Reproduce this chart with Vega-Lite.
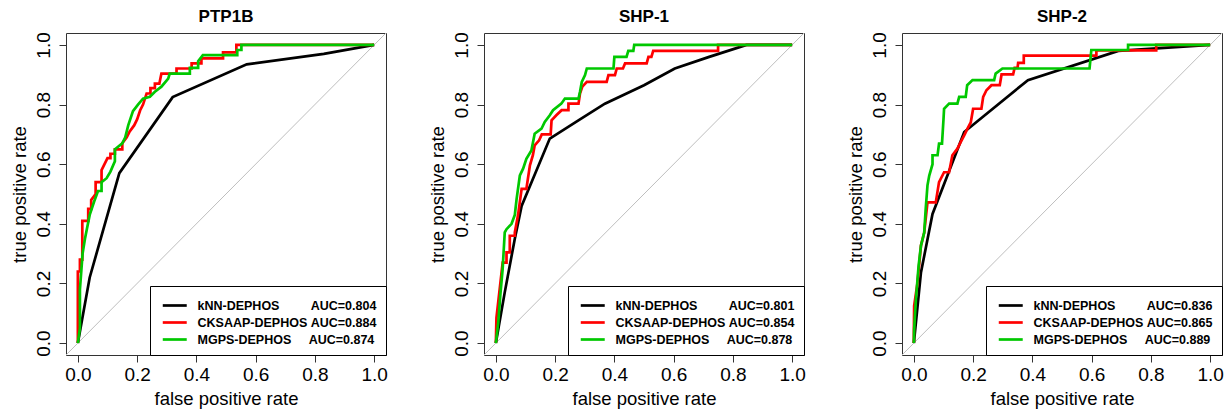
{
"$schema": "https://vega.github.io/schema/vega-lite/v6.json",
"background": "white",
"padding": {"left": 9, "top": 7, "right": 3, "bottom": 3},
"spacing": 98,
"bounds": "flush",
"resolve": {"legend": {"color": "independent"}},
"config": {
  "font": "Liberation Sans",
  "view": {"stroke": "#333333", "strokeWidth": 1},
  "axis": {"labelFontSize": 19, "labelColor": "black", "tickColor": "#333333", "tickSize": 7, "domain": false, "grid": false, "titleFontSize": 18.5, "titleFontWeight": "normal", "titleColor": "black"},
  "axisX": {"labelPadding": 3, "titlePadding": 5},
  "axisY": {"labelAngle": 270, "labelAlign": "center", "labelBaseline": "alphabetic", "labelPadding": 10, "titlePadding": 5},
  "title": {"fontSize": 17, "fontWeight": "bold", "offset": 6, "anchor": "middle", "color": "black"},
  "legend": {"orient": "bottom-right", "offset": 0, "symbolType": "M-0.77,0H1.97", "symbolSize": 306, "symbolStrokeWidth": 2.7, "symbolFillColor": "transparent", "labelFontSize": 12.5, "labelFontWeight": "bold", "labelColor": "black", "labelLimit": 400, "fillColor": "white", "strokeColor": "black", "padding": 9, "labelOffset": 17.5, "rowPadding": 0}
},
"datasets": {
"roc": [
{"p":"PTP1B","m":"kNN-DEPHOS","i":0,"x":0,"y":0},
{"p":"PTP1B","m":"kNN-DEPHOS","i":1,"x":0.04,"y":0.22},
{"p":"PTP1B","m":"kNN-DEPHOS","i":2,"x":0.14,"y":0.57},
{"p":"PTP1B","m":"kNN-DEPHOS","i":3,"x":0.32,"y":0.825},
{"p":"PTP1B","m":"kNN-DEPHOS","i":4,"x":0.57,"y":0.935},
{"p":"PTP1B","m":"kNN-DEPHOS","i":5,"x":0.83,"y":0.97},
{"p":"PTP1B","m":"kNN-DEPHOS","i":6,"x":1,"y":1},
{"p":"PTP1B","m":"CKSAAP-DEPHOS","i":0,"x":0,"y":0},
{"p":"PTP1B","m":"CKSAAP-DEPHOS","i":1,"x":0,"y":0.24},
{"p":"PTP1B","m":"CKSAAP-DEPHOS","i":2,"x":0.007,"y":0.24},
{"p":"PTP1B","m":"CKSAAP-DEPHOS","i":3,"x":0.007,"y":0.28},
{"p":"PTP1B","m":"CKSAAP-DEPHOS","i":4,"x":0.015,"y":0.28},
{"p":"PTP1B","m":"CKSAAP-DEPHOS","i":5,"x":0.015,"y":0.41},
{"p":"PTP1B","m":"CKSAAP-DEPHOS","i":6,"x":0.035,"y":0.41},
{"p":"PTP1B","m":"CKSAAP-DEPHOS","i":7,"x":0.035,"y":0.45},
{"p":"PTP1B","m":"CKSAAP-DEPHOS","i":8,"x":0.045,"y":0.45},
{"p":"PTP1B","m":"CKSAAP-DEPHOS","i":9,"x":0.045,"y":0.48},
{"p":"PTP1B","m":"CKSAAP-DEPHOS","i":10,"x":0.06,"y":0.5},
{"p":"PTP1B","m":"CKSAAP-DEPHOS","i":11,"x":0.06,"y":0.54},
{"p":"PTP1B","m":"CKSAAP-DEPHOS","i":12,"x":0.08,"y":0.54},
{"p":"PTP1B","m":"CKSAAP-DEPHOS","i":13,"x":0.08,"y":0.58},
{"p":"PTP1B","m":"CKSAAP-DEPHOS","i":14,"x":0.09,"y":0.6},
{"p":"PTP1B","m":"CKSAAP-DEPHOS","i":15,"x":0.1,"y":0.62},
{"p":"PTP1B","m":"CKSAAP-DEPHOS","i":16,"x":0.11,"y":0.62},
{"p":"PTP1B","m":"CKSAAP-DEPHOS","i":17,"x":0.11,"y":0.635},
{"p":"PTP1B","m":"CKSAAP-DEPHOS","i":18,"x":0.125,"y":0.635},
{"p":"PTP1B","m":"CKSAAP-DEPHOS","i":19,"x":0.125,"y":0.65},
{"p":"PTP1B","m":"CKSAAP-DEPHOS","i":20,"x":0.15,"y":0.65},
{"p":"PTP1B","m":"CKSAAP-DEPHOS","i":21,"x":0.15,"y":0.67},
{"p":"PTP1B","m":"CKSAAP-DEPHOS","i":22,"x":0.165,"y":0.69},
{"p":"PTP1B","m":"CKSAAP-DEPHOS","i":23,"x":0.175,"y":0.71},
{"p":"PTP1B","m":"CKSAAP-DEPHOS","i":24,"x":0.19,"y":0.73},
{"p":"PTP1B","m":"CKSAAP-DEPHOS","i":25,"x":0.2,"y":0.75},
{"p":"PTP1B","m":"CKSAAP-DEPHOS","i":26,"x":0.21,"y":0.78},
{"p":"PTP1B","m":"CKSAAP-DEPHOS","i":27,"x":0.22,"y":0.8},
{"p":"PTP1B","m":"CKSAAP-DEPHOS","i":28,"x":0.232,"y":0.837},
{"p":"PTP1B","m":"CKSAAP-DEPHOS","i":29,"x":0.245,"y":0.837},
{"p":"PTP1B","m":"CKSAAP-DEPHOS","i":30,"x":0.245,"y":0.855},
{"p":"PTP1B","m":"CKSAAP-DEPHOS","i":31,"x":0.26,"y":0.855},
{"p":"PTP1B","m":"CKSAAP-DEPHOS","i":32,"x":0.26,"y":0.87},
{"p":"PTP1B","m":"CKSAAP-DEPHOS","i":33,"x":0.275,"y":0.87},
{"p":"PTP1B","m":"CKSAAP-DEPHOS","i":34,"x":0.282,"y":0.904},
{"p":"PTP1B","m":"CKSAAP-DEPHOS","i":35,"x":0.333,"y":0.904},
{"p":"PTP1B","m":"CKSAAP-DEPHOS","i":36,"x":0.333,"y":0.921},
{"p":"PTP1B","m":"CKSAAP-DEPHOS","i":37,"x":0.384,"y":0.921},
{"p":"PTP1B","m":"CKSAAP-DEPHOS","i":38,"x":0.384,"y":0.938},
{"p":"PTP1B","m":"CKSAAP-DEPHOS","i":39,"x":0.417,"y":0.938},
{"p":"PTP1B","m":"CKSAAP-DEPHOS","i":40,"x":0.417,"y":0.955},
{"p":"PTP1B","m":"CKSAAP-DEPHOS","i":41,"x":0.49,"y":0.955},
{"p":"PTP1B","m":"CKSAAP-DEPHOS","i":42,"x":0.49,"y":0.975},
{"p":"PTP1B","m":"CKSAAP-DEPHOS","i":43,"x":0.535,"y":0.975},
{"p":"PTP1B","m":"CKSAAP-DEPHOS","i":44,"x":0.535,"y":1},
{"p":"PTP1B","m":"CKSAAP-DEPHOS","i":45,"x":1,"y":1},
{"p":"PTP1B","m":"MGPS-DEPHOS","i":0,"x":0,"y":0},
{"p":"PTP1B","m":"MGPS-DEPHOS","i":1,"x":0.007,"y":0.05},
{"p":"PTP1B","m":"MGPS-DEPHOS","i":2,"x":0.007,"y":0.18},
{"p":"PTP1B","m":"MGPS-DEPHOS","i":3,"x":0.016,"y":0.3},
{"p":"PTP1B","m":"MGPS-DEPHOS","i":4,"x":0.024,"y":0.35},
{"p":"PTP1B","m":"MGPS-DEPHOS","i":5,"x":0.031,"y":0.385},
{"p":"PTP1B","m":"MGPS-DEPHOS","i":6,"x":0.04,"y":0.43},
{"p":"PTP1B","m":"MGPS-DEPHOS","i":7,"x":0.055,"y":0.475},
{"p":"PTP1B","m":"MGPS-DEPHOS","i":8,"x":0.068,"y":0.51},
{"p":"PTP1B","m":"MGPS-DEPHOS","i":9,"x":0.08,"y":0.51},
{"p":"PTP1B","m":"MGPS-DEPHOS","i":10,"x":0.08,"y":0.54},
{"p":"PTP1B","m":"MGPS-DEPHOS","i":11,"x":0.097,"y":0.553},
{"p":"PTP1B","m":"MGPS-DEPHOS","i":12,"x":0.11,"y":0.575},
{"p":"PTP1B","m":"MGPS-DEPHOS","i":13,"x":0.125,"y":0.61},
{"p":"PTP1B","m":"MGPS-DEPHOS","i":14,"x":0.125,"y":0.65},
{"p":"PTP1B","m":"MGPS-DEPHOS","i":15,"x":0.15,"y":0.67},
{"p":"PTP1B","m":"MGPS-DEPHOS","i":16,"x":0.16,"y":0.69},
{"p":"PTP1B","m":"MGPS-DEPHOS","i":17,"x":0.17,"y":0.73},
{"p":"PTP1B","m":"MGPS-DEPHOS","i":18,"x":0.186,"y":0.778},
{"p":"PTP1B","m":"MGPS-DEPHOS","i":19,"x":0.203,"y":0.8},
{"p":"PTP1B","m":"MGPS-DEPHOS","i":20,"x":0.22,"y":0.82},
{"p":"PTP1B","m":"MGPS-DEPHOS","i":21,"x":0.243,"y":0.826},
{"p":"PTP1B","m":"MGPS-DEPHOS","i":22,"x":0.26,"y":0.843},
{"p":"PTP1B","m":"MGPS-DEPHOS","i":23,"x":0.282,"y":0.86},
{"p":"PTP1B","m":"MGPS-DEPHOS","i":24,"x":0.305,"y":0.887},
{"p":"PTP1B","m":"MGPS-DEPHOS","i":25,"x":0.31,"y":0.904},
{"p":"PTP1B","m":"MGPS-DEPHOS","i":26,"x":0.378,"y":0.904},
{"p":"PTP1B","m":"MGPS-DEPHOS","i":27,"x":0.378,"y":0.923},
{"p":"PTP1B","m":"MGPS-DEPHOS","i":28,"x":0.406,"y":0.923},
{"p":"PTP1B","m":"MGPS-DEPHOS","i":29,"x":0.406,"y":0.945},
{"p":"PTP1B","m":"MGPS-DEPHOS","i":30,"x":0.422,"y":0.966},
{"p":"PTP1B","m":"MGPS-DEPHOS","i":31,"x":0.538,"y":0.966},
{"p":"PTP1B","m":"MGPS-DEPHOS","i":32,"x":0.538,"y":0.983},
{"p":"PTP1B","m":"MGPS-DEPHOS","i":33,"x":0.552,"y":0.983},
{"p":"PTP1B","m":"MGPS-DEPHOS","i":34,"x":0.552,"y":1},
{"p":"PTP1B","m":"MGPS-DEPHOS","i":35,"x":1,"y":1},
{"p":"SHP-1","m":"kNN-DEPHOS","i":0,"x":0,"y":0},
{"p":"SHP-1","m":"kNN-DEPHOS","i":1,"x":0.03,"y":0.17},
{"p":"SHP-1","m":"kNN-DEPHOS","i":2,"x":0.064,"y":0.35},
{"p":"SHP-1","m":"kNN-DEPHOS","i":3,"x":0.087,"y":0.46},
{"p":"SHP-1","m":"kNN-DEPHOS","i":4,"x":0.182,"y":0.686},
{"p":"SHP-1","m":"kNN-DEPHOS","i":5,"x":0.28,"y":0.748},
{"p":"SHP-1","m":"kNN-DEPHOS","i":6,"x":0.368,"y":0.803},
{"p":"SHP-1","m":"kNN-DEPHOS","i":7,"x":0.5,"y":0.865},
{"p":"SHP-1","m":"kNN-DEPHOS","i":8,"x":0.604,"y":0.921},
{"p":"SHP-1","m":"kNN-DEPHOS","i":9,"x":0.72,"y":0.96},
{"p":"SHP-1","m":"kNN-DEPHOS","i":10,"x":0.846,"y":1},
{"p":"SHP-1","m":"kNN-DEPHOS","i":11,"x":1,"y":1},
{"p":"SHP-1","m":"CKSAAP-DEPHOS","i":0,"x":0,"y":0},
{"p":"SHP-1","m":"CKSAAP-DEPHOS","i":1,"x":0.002,"y":0.085},
{"p":"SHP-1","m":"CKSAAP-DEPHOS","i":2,"x":0.011,"y":0.164},
{"p":"SHP-1","m":"CKSAAP-DEPHOS","i":3,"x":0.023,"y":0.27},
{"p":"SHP-1","m":"CKSAAP-DEPHOS","i":4,"x":0.036,"y":0.27},
{"p":"SHP-1","m":"CKSAAP-DEPHOS","i":5,"x":0.036,"y":0.304},
{"p":"SHP-1","m":"CKSAAP-DEPHOS","i":6,"x":0.047,"y":0.304},
{"p":"SHP-1","m":"CKSAAP-DEPHOS","i":7,"x":0.047,"y":0.36},
{"p":"SHP-1","m":"CKSAAP-DEPHOS","i":8,"x":0.064,"y":0.36},
{"p":"SHP-1","m":"CKSAAP-DEPHOS","i":9,"x":0.064,"y":0.371},
{"p":"SHP-1","m":"CKSAAP-DEPHOS","i":10,"x":0.075,"y":0.43},
{"p":"SHP-1","m":"CKSAAP-DEPHOS","i":11,"x":0.087,"y":0.517},
{"p":"SHP-1","m":"CKSAAP-DEPHOS","i":12,"x":0.103,"y":0.517},
{"p":"SHP-1","m":"CKSAAP-DEPHOS","i":13,"x":0.115,"y":0.596},
{"p":"SHP-1","m":"CKSAAP-DEPHOS","i":14,"x":0.125,"y":0.63},
{"p":"SHP-1","m":"CKSAAP-DEPHOS","i":15,"x":0.131,"y":0.663},
{"p":"SHP-1","m":"CKSAAP-DEPHOS","i":16,"x":0.146,"y":0.68},
{"p":"SHP-1","m":"CKSAAP-DEPHOS","i":17,"x":0.155,"y":0.7},
{"p":"SHP-1","m":"CKSAAP-DEPHOS","i":18,"x":0.185,"y":0.7},
{"p":"SHP-1","m":"CKSAAP-DEPHOS","i":19,"x":0.188,"y":0.747},
{"p":"SHP-1","m":"CKSAAP-DEPHOS","i":20,"x":0.204,"y":0.764},
{"p":"SHP-1","m":"CKSAAP-DEPHOS","i":21,"x":0.222,"y":0.781},
{"p":"SHP-1","m":"CKSAAP-DEPHOS","i":22,"x":0.245,"y":0.781},
{"p":"SHP-1","m":"CKSAAP-DEPHOS","i":23,"x":0.245,"y":0.803},
{"p":"SHP-1","m":"CKSAAP-DEPHOS","i":24,"x":0.279,"y":0.803},
{"p":"SHP-1","m":"CKSAAP-DEPHOS","i":25,"x":0.284,"y":0.837},
{"p":"SHP-1","m":"CKSAAP-DEPHOS","i":26,"x":0.292,"y":0.86},
{"p":"SHP-1","m":"CKSAAP-DEPHOS","i":27,"x":0.307,"y":0.876},
{"p":"SHP-1","m":"CKSAAP-DEPHOS","i":28,"x":0.374,"y":0.876},
{"p":"SHP-1","m":"CKSAAP-DEPHOS","i":29,"x":0.38,"y":0.899},
{"p":"SHP-1","m":"CKSAAP-DEPHOS","i":30,"x":0.402,"y":0.899},
{"p":"SHP-1","m":"CKSAAP-DEPHOS","i":31,"x":0.408,"y":0.921},
{"p":"SHP-1","m":"CKSAAP-DEPHOS","i":32,"x":0.429,"y":0.921},
{"p":"SHP-1","m":"CKSAAP-DEPHOS","i":33,"x":0.436,"y":0.938},
{"p":"SHP-1","m":"CKSAAP-DEPHOS","i":34,"x":0.509,"y":0.938},
{"p":"SHP-1","m":"CKSAAP-DEPHOS","i":35,"x":0.515,"y":0.96},
{"p":"SHP-1","m":"CKSAAP-DEPHOS","i":36,"x":0.525,"y":0.96},
{"p":"SHP-1","m":"CKSAAP-DEPHOS","i":37,"x":0.531,"y":0.98},
{"p":"SHP-1","m":"CKSAAP-DEPHOS","i":38,"x":0.75,"y":0.98},
{"p":"SHP-1","m":"CKSAAP-DEPHOS","i":39,"x":0.75,"y":1},
{"p":"SHP-1","m":"CKSAAP-DEPHOS","i":40,"x":1,"y":1},
{"p":"SHP-1","m":"MGPS-DEPHOS","i":0,"x":0,"y":0},
{"p":"SHP-1","m":"MGPS-DEPHOS","i":1,"x":0.008,"y":0.068},
{"p":"SHP-1","m":"MGPS-DEPHOS","i":2,"x":0.015,"y":0.16},
{"p":"SHP-1","m":"MGPS-DEPHOS","i":3,"x":0.023,"y":0.25},
{"p":"SHP-1","m":"MGPS-DEPHOS","i":4,"x":0.03,"y":0.371},
{"p":"SHP-1","m":"MGPS-DEPHOS","i":5,"x":0.036,"y":0.382},
{"p":"SHP-1","m":"MGPS-DEPHOS","i":6,"x":0.053,"y":0.4},
{"p":"SHP-1","m":"MGPS-DEPHOS","i":7,"x":0.064,"y":0.43},
{"p":"SHP-1","m":"MGPS-DEPHOS","i":8,"x":0.07,"y":0.483},
{"p":"SHP-1","m":"MGPS-DEPHOS","i":9,"x":0.081,"y":0.562},
{"p":"SHP-1","m":"MGPS-DEPHOS","i":10,"x":0.092,"y":0.585},
{"p":"SHP-1","m":"MGPS-DEPHOS","i":11,"x":0.103,"y":0.618},
{"p":"SHP-1","m":"MGPS-DEPHOS","i":12,"x":0.12,"y":0.646},
{"p":"SHP-1","m":"MGPS-DEPHOS","i":13,"x":0.131,"y":0.702},
{"p":"SHP-1","m":"MGPS-DEPHOS","i":14,"x":0.154,"y":0.719},
{"p":"SHP-1","m":"MGPS-DEPHOS","i":15,"x":0.165,"y":0.742},
{"p":"SHP-1","m":"MGPS-DEPHOS","i":16,"x":0.182,"y":0.764},
{"p":"SHP-1","m":"MGPS-DEPHOS","i":17,"x":0.193,"y":0.781},
{"p":"SHP-1","m":"MGPS-DEPHOS","i":18,"x":0.221,"y":0.803},
{"p":"SHP-1","m":"MGPS-DEPHOS","i":19,"x":0.233,"y":0.82},
{"p":"SHP-1","m":"MGPS-DEPHOS","i":20,"x":0.279,"y":0.82},
{"p":"SHP-1","m":"MGPS-DEPHOS","i":21,"x":0.284,"y":0.843},
{"p":"SHP-1","m":"MGPS-DEPHOS","i":22,"x":0.29,"y":0.876},
{"p":"SHP-1","m":"MGPS-DEPHOS","i":23,"x":0.301,"y":0.899},
{"p":"SHP-1","m":"MGPS-DEPHOS","i":24,"x":0.307,"y":0.921},
{"p":"SHP-1","m":"MGPS-DEPHOS","i":25,"x":0.397,"y":0.921},
{"p":"SHP-1","m":"MGPS-DEPHOS","i":26,"x":0.4,"y":0.96},
{"p":"SHP-1","m":"MGPS-DEPHOS","i":27,"x":0.441,"y":0.96},
{"p":"SHP-1","m":"MGPS-DEPHOS","i":28,"x":0.447,"y":0.98},
{"p":"SHP-1","m":"MGPS-DEPHOS","i":29,"x":0.464,"y":0.98},
{"p":"SHP-1","m":"MGPS-DEPHOS","i":30,"x":0.467,"y":1},
{"p":"SHP-1","m":"MGPS-DEPHOS","i":31,"x":1,"y":1},
{"p":"SHP-2","m":"kNN-DEPHOS","i":0,"x":0,"y":0},
{"p":"SHP-2","m":"kNN-DEPHOS","i":1,"x":0.024,"y":0.237},
{"p":"SHP-2","m":"kNN-DEPHOS","i":2,"x":0.063,"y":0.433},
{"p":"SHP-2","m":"kNN-DEPHOS","i":3,"x":0.17,"y":0.708},
{"p":"SHP-2","m":"kNN-DEPHOS","i":4,"x":0.385,"y":0.882},
{"p":"SHP-2","m":"kNN-DEPHOS","i":5,"x":0.69,"y":0.98},
{"p":"SHP-2","m":"kNN-DEPHOS","i":6,"x":1,"y":1},
{"p":"SHP-2","m":"CKSAAP-DEPHOS","i":0,"x":0,"y":0},
{"p":"SHP-2","m":"CKSAAP-DEPHOS","i":1,"x":0,"y":0.035},
{"p":"SHP-2","m":"CKSAAP-DEPHOS","i":2,"x":0.001,"y":0.125},
{"p":"SHP-2","m":"CKSAAP-DEPHOS","i":3,"x":0.012,"y":0.2},
{"p":"SHP-2","m":"CKSAAP-DEPHOS","i":4,"x":0.024,"y":0.327},
{"p":"SHP-2","m":"CKSAAP-DEPHOS","i":5,"x":0.035,"y":0.371},
{"p":"SHP-2","m":"CKSAAP-DEPHOS","i":6,"x":0.046,"y":0.472},
{"p":"SHP-2","m":"CKSAAP-DEPHOS","i":7,"x":0.074,"y":0.472},
{"p":"SHP-2","m":"CKSAAP-DEPHOS","i":8,"x":0.085,"y":0.54},
{"p":"SHP-2","m":"CKSAAP-DEPHOS","i":9,"x":0.102,"y":0.573},
{"p":"SHP-2","m":"CKSAAP-DEPHOS","i":10,"x":0.119,"y":0.573},
{"p":"SHP-2","m":"CKSAAP-DEPHOS","i":11,"x":0.13,"y":0.63},
{"p":"SHP-2","m":"CKSAAP-DEPHOS","i":12,"x":0.147,"y":0.652},
{"p":"SHP-2","m":"CKSAAP-DEPHOS","i":13,"x":0.158,"y":0.674},
{"p":"SHP-2","m":"CKSAAP-DEPHOS","i":14,"x":0.17,"y":0.697},
{"p":"SHP-2","m":"CKSAAP-DEPHOS","i":15,"x":0.181,"y":0.719},
{"p":"SHP-2","m":"CKSAAP-DEPHOS","i":16,"x":0.192,"y":0.74},
{"p":"SHP-2","m":"CKSAAP-DEPHOS","i":17,"x":0.2,"y":0.786},
{"p":"SHP-2","m":"CKSAAP-DEPHOS","i":18,"x":0.228,"y":0.786},
{"p":"SHP-2","m":"CKSAAP-DEPHOS","i":19,"x":0.234,"y":0.826},
{"p":"SHP-2","m":"CKSAAP-DEPHOS","i":20,"x":0.245,"y":0.848},
{"p":"SHP-2","m":"CKSAAP-DEPHOS","i":21,"x":0.262,"y":0.865},
{"p":"SHP-2","m":"CKSAAP-DEPHOS","i":22,"x":0.29,"y":0.865},
{"p":"SHP-2","m":"CKSAAP-DEPHOS","i":23,"x":0.296,"y":0.901},
{"p":"SHP-2","m":"CKSAAP-DEPHOS","i":24,"x":0.335,"y":0.901},
{"p":"SHP-2","m":"CKSAAP-DEPHOS","i":25,"x":0.34,"y":0.923},
{"p":"SHP-2","m":"CKSAAP-DEPHOS","i":26,"x":0.35,"y":0.923},
{"p":"SHP-2","m":"CKSAAP-DEPHOS","i":27,"x":0.352,"y":0.94},
{"p":"SHP-2","m":"CKSAAP-DEPHOS","i":28,"x":0.371,"y":0.94},
{"p":"SHP-2","m":"CKSAAP-DEPHOS","i":29,"x":0.371,"y":0.964},
{"p":"SHP-2","m":"CKSAAP-DEPHOS","i":30,"x":0.616,"y":0.964},
{"p":"SHP-2","m":"CKSAAP-DEPHOS","i":31,"x":0.616,"y":0.982},
{"p":"SHP-2","m":"CKSAAP-DEPHOS","i":32,"x":0.818,"y":0.982},
{"p":"SHP-2","m":"CKSAAP-DEPHOS","i":33,"x":0.818,"y":1},
{"p":"SHP-2","m":"CKSAAP-DEPHOS","i":34,"x":1,"y":1},
{"p":"SHP-2","m":"MGPS-DEPHOS","i":0,"x":0,"y":0},
{"p":"SHP-2","m":"MGPS-DEPHOS","i":1,"x":0.001,"y":0.046},
{"p":"SHP-2","m":"MGPS-DEPHOS","i":2,"x":0.007,"y":0.147},
{"p":"SHP-2","m":"MGPS-DEPHOS","i":3,"x":0.016,"y":0.259},
{"p":"SHP-2","m":"MGPS-DEPHOS","i":4,"x":0.024,"y":0.327},
{"p":"SHP-2","m":"MGPS-DEPHOS","i":5,"x":0.035,"y":0.371},
{"p":"SHP-2","m":"MGPS-DEPHOS","i":6,"x":0.04,"y":0.45},
{"p":"SHP-2","m":"MGPS-DEPHOS","i":7,"x":0.046,"y":0.529},
{"p":"SHP-2","m":"MGPS-DEPHOS","i":8,"x":0.052,"y":0.562},
{"p":"SHP-2","m":"MGPS-DEPHOS","i":9,"x":0.063,"y":0.6},
{"p":"SHP-2","m":"MGPS-DEPHOS","i":10,"x":0.063,"y":0.63},
{"p":"SHP-2","m":"MGPS-DEPHOS","i":11,"x":0.08,"y":0.63},
{"p":"SHP-2","m":"MGPS-DEPHOS","i":12,"x":0.085,"y":0.669},
{"p":"SHP-2","m":"MGPS-DEPHOS","i":13,"x":0.095,"y":0.669},
{"p":"SHP-2","m":"MGPS-DEPHOS","i":14,"x":0.1,"y":0.75},
{"p":"SHP-2","m":"MGPS-DEPHOS","i":15,"x":0.102,"y":0.786},
{"p":"SHP-2","m":"MGPS-DEPHOS","i":16,"x":0.119,"y":0.803},
{"p":"SHP-2","m":"MGPS-DEPHOS","i":17,"x":0.147,"y":0.803},
{"p":"SHP-2","m":"MGPS-DEPHOS","i":18,"x":0.153,"y":0.826},
{"p":"SHP-2","m":"MGPS-DEPHOS","i":19,"x":0.175,"y":0.826},
{"p":"SHP-2","m":"MGPS-DEPHOS","i":20,"x":0.18,"y":0.865},
{"p":"SHP-2","m":"MGPS-DEPHOS","i":21,"x":0.198,"y":0.882},
{"p":"SHP-2","m":"MGPS-DEPHOS","i":22,"x":0.271,"y":0.882},
{"p":"SHP-2","m":"MGPS-DEPHOS","i":23,"x":0.276,"y":0.904},
{"p":"SHP-2","m":"MGPS-DEPHOS","i":24,"x":0.299,"y":0.921},
{"p":"SHP-2","m":"MGPS-DEPHOS","i":25,"x":0.593,"y":0.921},
{"p":"SHP-2","m":"MGPS-DEPHOS","i":26,"x":0.599,"y":0.983},
{"p":"SHP-2","m":"MGPS-DEPHOS","i":27,"x":0.723,"y":0.983},
{"p":"SHP-2","m":"MGPS-DEPHOS","i":28,"x":0.723,"y":1},
{"p":"SHP-2","m":"MGPS-DEPHOS","i":29,"x":1,"y":1}
]
},
"hconcat": [
{
  "title": "PTP1B",
  "width": 320, "height": 322,
  "layer": [
    {"data": {"values": [{}]}, "mark": {"type": "rule", "color": "#bebebe", "strokeWidth": 1},
     "encoding": {"x": {"datum": -0.04, "type": "quantitative"}, "y": {"datum": -0.04, "type": "quantitative"}, "x2": {"datum": 1.04}, "y2": {"datum": 1.04}}},
    {"data": {"name": "roc"}, "transform": [{"filter": "datum.p == 'PTP1B'"}],
     "mark": {"type": "line", "strokeWidth": 2.7},
     "encoding": {
       "x": {"field": "x", "type": "quantitative", "scale": {"domain": [-0.04, 1.04], "nice": false, "zero": false}, "title": "false positive rate", "axis": {"values": [0, 0.2, 0.4, 0.6, 0.8, 1], "format": ".1f"}},
       "y": {"field": "y", "type": "quantitative", "scale": {"domain": [-0.04, 1.04], "nice": false, "zero": false}, "title": "true positive rate", "axis": {"values": [0, 0.2, 0.4, 0.6, 0.8, 1], "format": ".1f"}},
       "order": {"field": "i", "type": "quantitative"},
       "color": {"field": "m", "type": "nominal", "scale": {"domain": ["kNN-DEPHOS", "CKSAAP-DEPHOS", "MGPS-DEPHOS"], "range": ["#000000", "#FF0000", "#00C800"]},
         "legend": {"title": null, "labelExpr": "datum.label == 'kNN-DEPHOS' ? 'kNN-DEPHOS\u00a0\u00a0\u00a0\u00a0\u00a0\u00a0\u00a0\u00a0\u00a0AUC=0.804' : datum.label == 'CKSAAP-DEPHOS' ? 'CKSAAP-DEPHOS\u00a0AUC=0.884' : 'MGPS-DEPHOS\u00a0\u00a0\u00a0\u00a0\u00a0AUC=0.874'"}}
     }}
  ]
},
{
  "title": "SHP-1",
  "width": 320, "height": 322,
  "layer": [
    {"data": {"values": [{}]}, "mark": {"type": "rule", "color": "#bebebe", "strokeWidth": 1},
     "encoding": {"x": {"datum": -0.04, "type": "quantitative"}, "y": {"datum": -0.04, "type": "quantitative"}, "x2": {"datum": 1.04}, "y2": {"datum": 1.04}}},
    {"data": {"name": "roc"}, "transform": [{"filter": "datum.p == 'SHP-1'"}],
     "mark": {"type": "line", "strokeWidth": 2.7},
     "encoding": {
       "x": {"field": "x", "type": "quantitative", "scale": {"domain": [-0.04, 1.04], "nice": false, "zero": false}, "title": "false positive rate", "axis": {"values": [0, 0.2, 0.4, 0.6, 0.8, 1], "format": ".1f"}},
       "y": {"field": "y", "type": "quantitative", "scale": {"domain": [-0.04, 1.04], "nice": false, "zero": false}, "title": "true positive rate", "axis": {"values": [0, 0.2, 0.4, 0.6, 0.8, 1], "format": ".1f"}},
       "order": {"field": "i", "type": "quantitative"},
       "color": {"field": "m", "type": "nominal", "scale": {"domain": ["kNN-DEPHOS", "CKSAAP-DEPHOS", "MGPS-DEPHOS"], "range": ["#000000", "#FF0000", "#00C800"]},
         "legend": {"title": null, "labelExpr": "datum.label == 'kNN-DEPHOS' ? 'kNN-DEPHOS\u00a0\u00a0\u00a0\u00a0\u00a0\u00a0\u00a0\u00a0\u00a0AUC=0.801' : datum.label == 'CKSAAP-DEPHOS' ? 'CKSAAP-DEPHOS\u00a0AUC=0.854' : 'MGPS-DEPHOS\u00a0\u00a0\u00a0\u00a0\u00a0AUC=0.878'"}}
     }}
  ]
},
{
  "title": "SHP-2",
  "width": 320, "height": 322,
  "layer": [
    {"data": {"values": [{}]}, "mark": {"type": "rule", "color": "#bebebe", "strokeWidth": 1},
     "encoding": {"x": {"datum": -0.04, "type": "quantitative"}, "y": {"datum": -0.04, "type": "quantitative"}, "x2": {"datum": 1.04}, "y2": {"datum": 1.04}}},
    {"data": {"name": "roc"}, "transform": [{"filter": "datum.p == 'SHP-2'"}],
     "mark": {"type": "line", "strokeWidth": 2.7},
     "encoding": {
       "x": {"field": "x", "type": "quantitative", "scale": {"domain": [-0.04, 1.04], "nice": false, "zero": false}, "title": "false positive rate", "axis": {"values": [0, 0.2, 0.4, 0.6, 0.8, 1], "format": ".1f"}},
       "y": {"field": "y", "type": "quantitative", "scale": {"domain": [-0.04, 1.04], "nice": false, "zero": false}, "title": "true positive rate", "axis": {"values": [0, 0.2, 0.4, 0.6, 0.8, 1], "format": ".1f"}},
       "order": {"field": "i", "type": "quantitative"},
       "color": {"field": "m", "type": "nominal", "scale": {"domain": ["kNN-DEPHOS", "CKSAAP-DEPHOS", "MGPS-DEPHOS"], "range": ["#000000", "#FF0000", "#00C800"]},
         "legend": {"title": null, "labelExpr": "datum.label == 'kNN-DEPHOS' ? 'kNN-DEPHOS\u00a0\u00a0\u00a0\u00a0\u00a0\u00a0\u00a0\u00a0\u00a0AUC=0.836' : datum.label == 'CKSAAP-DEPHOS' ? 'CKSAAP-DEPHOS\u00a0AUC=0.865' : 'MGPS-DEPHOS\u00a0\u00a0\u00a0\u00a0\u00a0AUC=0.889'"}}
     }}
  ]
}
]
}
